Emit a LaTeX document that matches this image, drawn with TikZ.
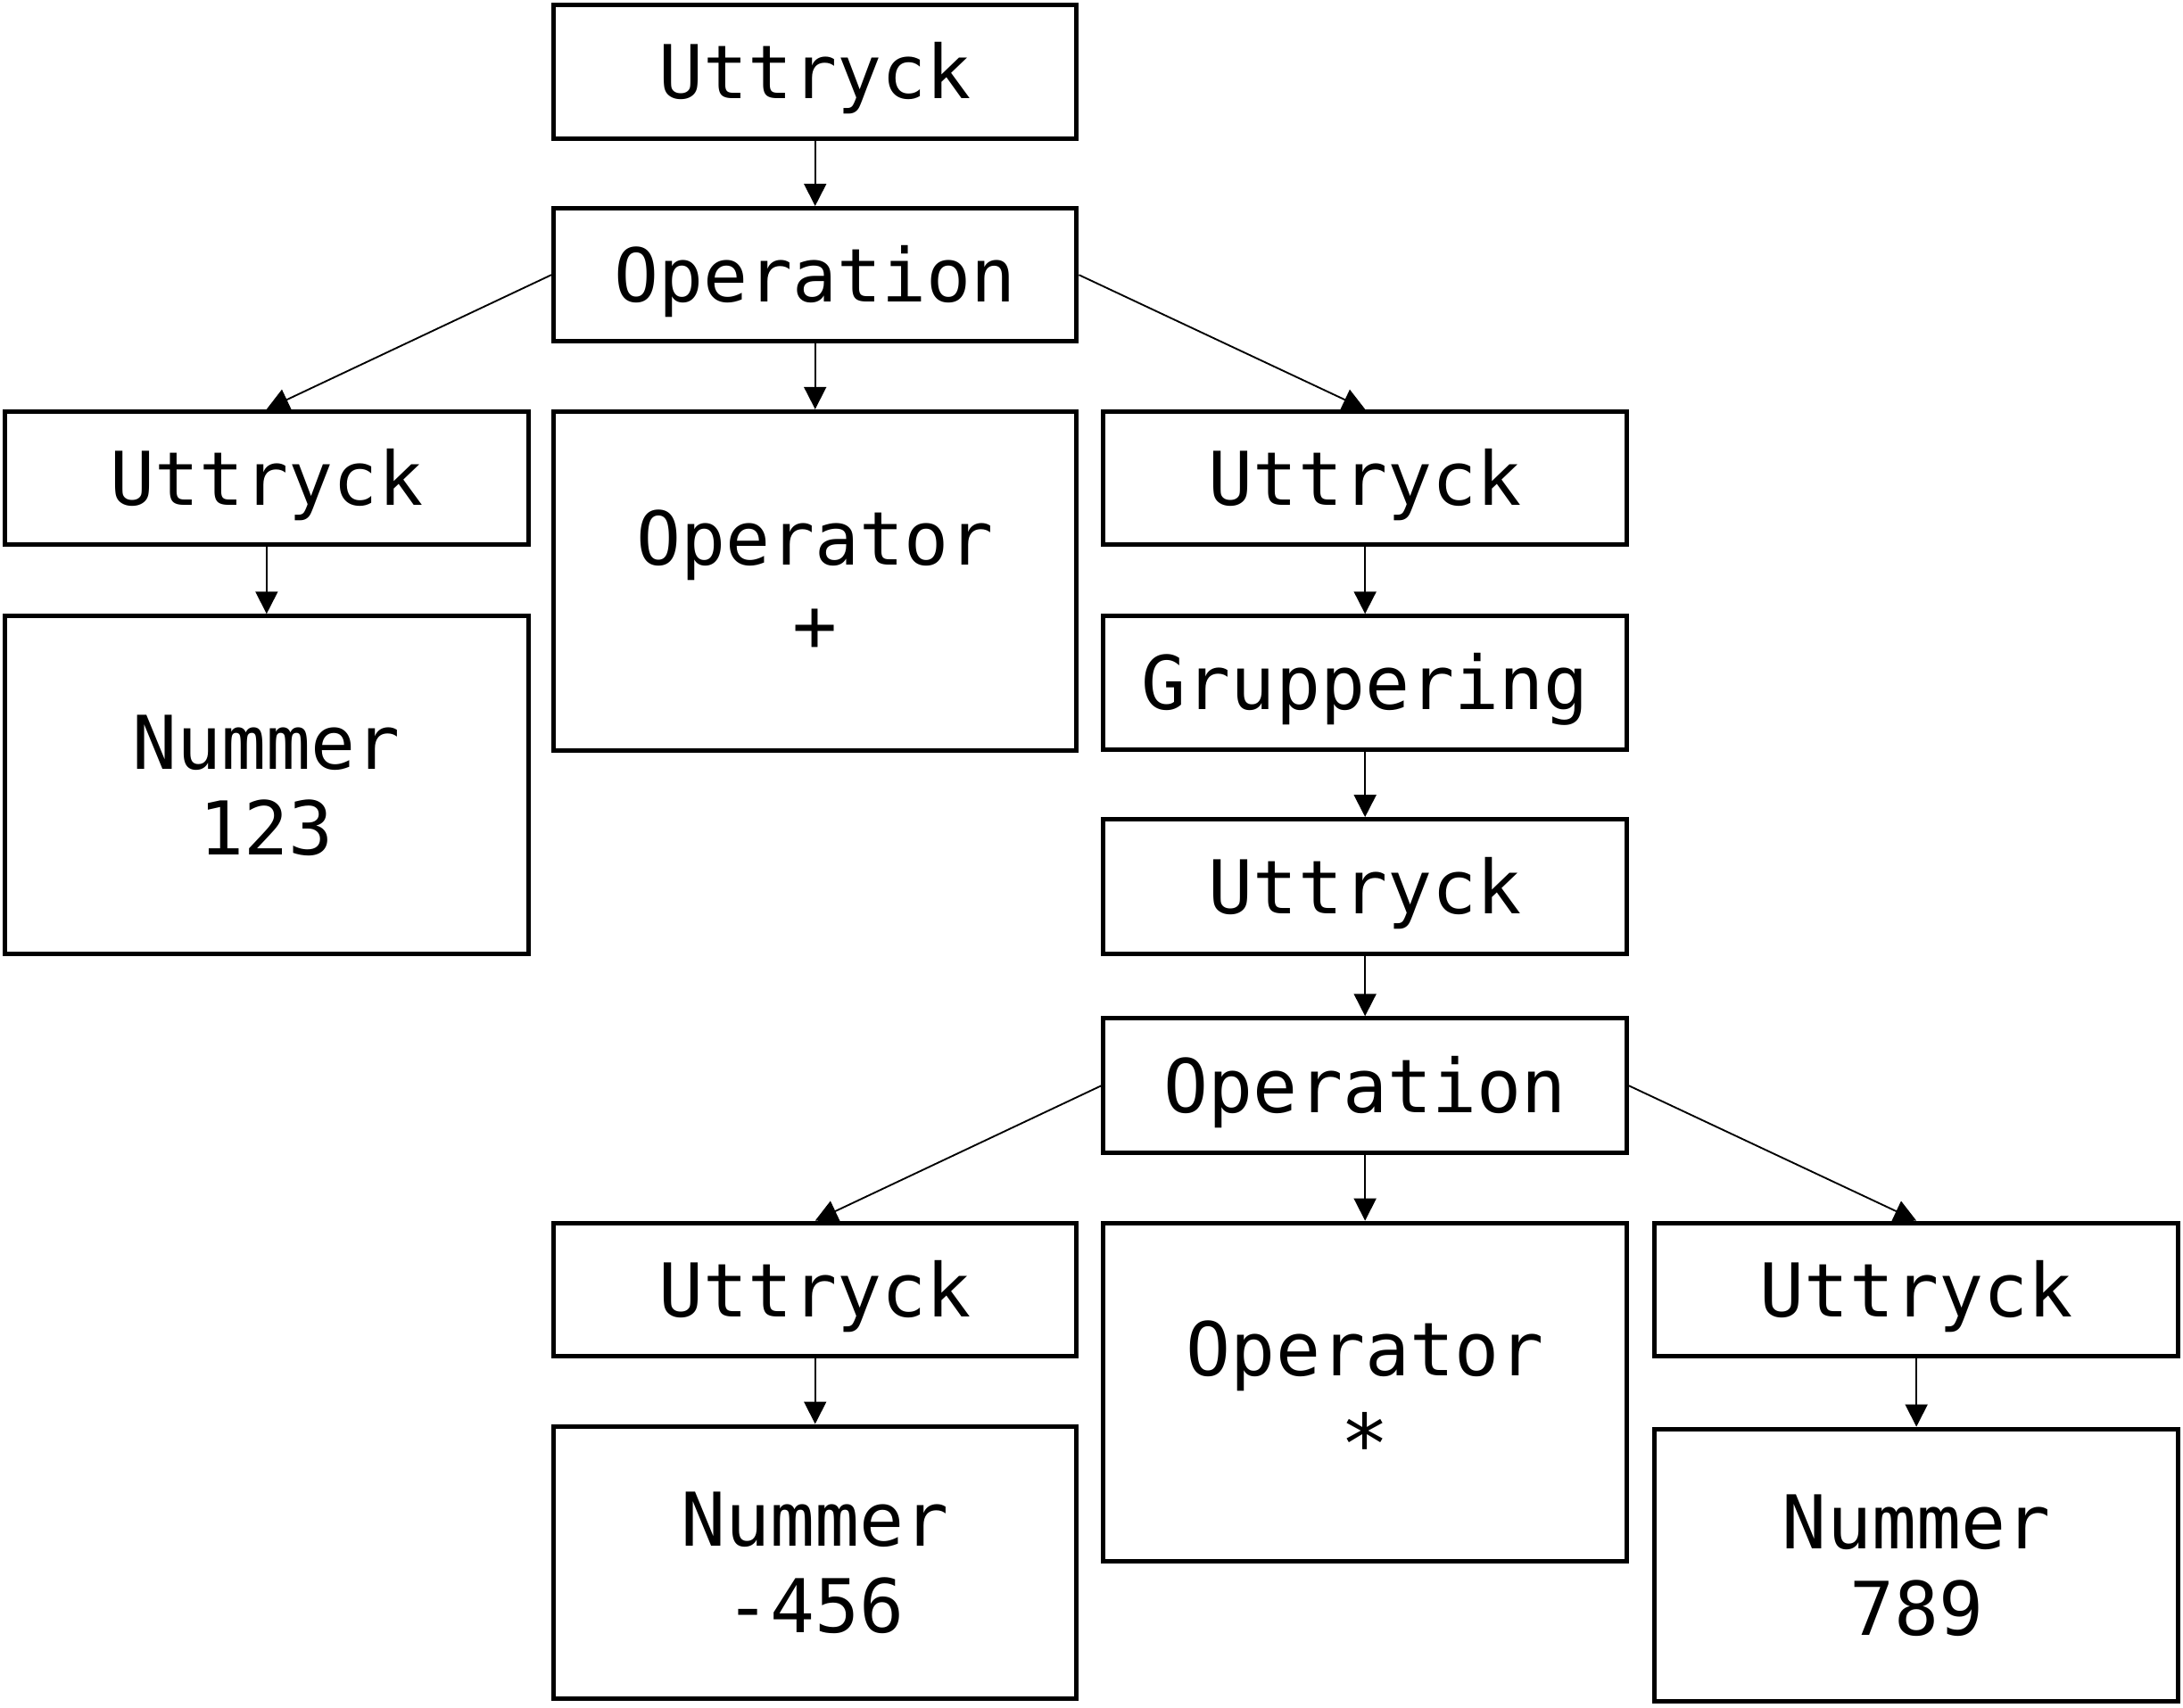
\documentclass[tikz,border=0pt]{standalone}
\usepackage{fontspec}
\newfontfamily\djmono{DejaVu Sans Mono}
\usetikzlibrary{arrows.meta,backgrounds}
\newcommand\twolines[2]{\vtop{\halign{\hfil##\hfil\cr#1\cr#2\cr}}}
\begin{document}
\begin{tikzpicture}[x=1pt,y=-1pt,
  box/.style={draw=black, line width=3.2pt, fill=white, minimum width=375.8pt,
    inner sep=0pt, font=\djmono\fontsize{53.3}{62}\selectfont},
  onebox/.style={box, minimum height=95.8pt, text height=39pt, text depth=0pt},
  twobox/.style={box, minimum height=#1, text height=39pt, text depth=62pt},
  conn/.style={line width=1.2pt, -{Triangle[length=16pt,width=16pt]}}
]
\useasboundingbox (0,0) rectangle (1568,1227);

\node[onebox] (top) at (585.5,51.5) {Uttryck};
\node[onebox] (op1) at (585.5,197.5) {Operation};
\node[onebox] (uL) at (191.5,343.5) {Uttryck};
\node[twobox=243.8pt] (opP) at (585.5,417.5) {\twolines{Operator}{+}};
\node[onebox] (uR) at (980.5,343.5) {Uttryck};
\node[twobox=242.8pt] (n123) at (191.5,564) {\twolines{Nummer}{123}};
\node[onebox] (grp) at (980.5,490.5) {Gruppering};
\node[onebox, minimum height=96.8pt] (uC) at (980.5,637) {Uttryck};
\node[onebox, minimum height=96.8pt] (op2) at (980.5,780) {Operation};
\node[onebox] (uLL) at (585.5,926.5) {Uttryck};
\node[twobox=242.8pt] (opS) at (980.5,1000) {\twolines{Operator}{\raisebox{-8pt}{\scalebox{1.1}{*}}}};
\node[onebox] (uRR) at (1376.5,926.5) {Uttryck};
\node[twobox=195.8pt] (n456) at (585.5,1122.5) {\twolines{Nummer}{-456}};
\node[twobox=195.8pt] (n789) at (1376.5,1124.5) {\twolines{Nummer}{789}};

\begin{pgfonlayer}{background}
\draw[conn] (top.south) -- (op1.north);
\draw[conn] (op1.west) -- (uL.north);
\draw[conn] (op1.south) -- (opP.north);
\draw[conn] (op1.east) -- (uR.north);
\draw[conn] (uL.south) -- (n123.north);
\draw[conn] (uR.south) -- (grp.north);
\draw[conn] (grp.south) -- (uC.north);
\draw[conn] (uC.south) -- (op2.north);
\draw[conn] (op2.west) -- (uLL.north);
\draw[conn] (op2.south) -- (opS.north);
\draw[conn] (op2.east) -- (uRR.north);
\draw[conn] (uLL.south) -- (n456.north);
\draw[conn] (uRR.south) -- (n789.north);
\end{pgfonlayer}
\end{tikzpicture}
\end{document}
